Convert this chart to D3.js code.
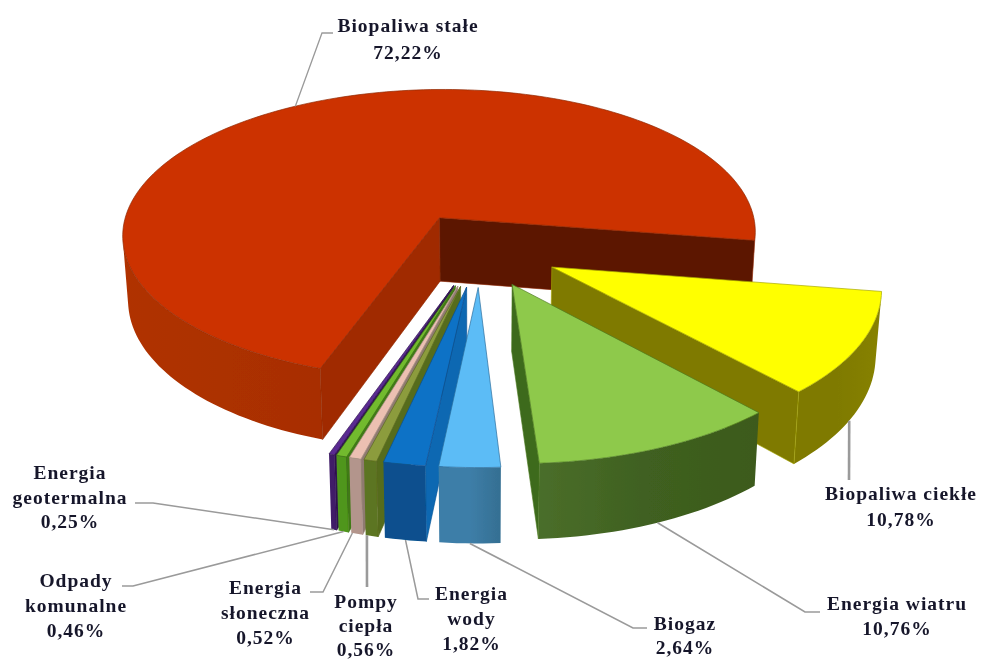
<!DOCTYPE html>
<html>
<head>
<meta charset="utf-8">
<script src="https://cdn.jsdelivr.net/npm/d3@7"></script>
<style>
  html, body { margin: 0; padding: 0; background: #fff; }
  text { font-family: "Liberation Serif", serif; font-weight: bold; font-size: 19.5px; fill: #16162a; letter-spacing: 1px; }
</style>
</head>
<body>
<script>
// Data
var names = [
  ["Biopaliwa stałe"], ["Biopaliwa ciekłe"], ["Energia wiatru"], ["Biogaz"],
  ["Energia", "wody"], ["Pompy", "ciepła"], ["Energia", "słoneczna"],
  ["Odpady", "komunalne"], ["Energia", "geotermalna"]
];
var values = [72.22, 10.78, 10.76, 2.64, 1.82, 0.56, 0.52, 0.46, 0.25];
var valueLabels = ["72,22%", "10,78%", "10,76%", "2,64%", "1,82%", "0,56%", "0,52%", "0,46%", "0,25%"];

// Colours per slice
var topColors = ["#cc3300", "#ffff00", "#8ec94b", "#5cbcf6", "#0b72c6", "#8c9c3e", "#ecc0b2", "#72ba2e", "#5a2a92"];
// wall shading, left to right on the screen
var wallColors = [
  ["#b03200", "#a32c00", "#a52e00"],
  ["#7f7a00", "#7f7a00", "#878200"],
  ["#4a6e2a", "#3f6020", "#3c5a1c"],
  ["#3d7ea8", "#3d7ea8", "#356f92"],
  ["#07508e", "#07508e", "#07508e"],
  ["#5c7420", "#5c7420", "#5c7420"],
  ["#b3958c", "#b3958c", "#b3958c"],
  ["#4f961a", "#4f961a", "#4f961a"],
  ["#3f1b68", "#3f1b68", "#3f1b68"]
];
var cutColors = ["#5c1600", "#7f7a00", "#3c6a1c", "#2f6f9e", "#0868b2", "#566c1e", "#8f7a70", "#3f7a14", "#2f1250"];
var edgeColors = ["#8f2600", "#a8a800", "#4e7a20", "#2c6f9e", "#084f92", "#5a6c1e", "#a98f88", "#3f7a14", "#2f1250"];

// Draw order: painter's, back to front
var drawOrder = [0, 1, 2, 8, 7, 6, 5, 4, 3];

// Label layout: centre x, first baseline y, line step, leader path after the slice
var labelLayout = [
  { x: 408, y: 32, step: 27, leader: [[322, 33], [333, 33]], at: 0, frac: 0.5, w: 1.3 },
  { x: 901, y: 500, step: 26, leader: [[849, 480]], at: 1, frac: 0.56, w: 2.6 },
  { x: 897, y: 610, step: 25, leader: [[805, 612], [820, 612]], at: 1, frac: 0.5, w: 1.6 },
  { x: 685, y: 630, step: 24, leader: [[633, 628], [647, 628]], at: 1, frac: 0.5, w: 1.6 },
  { x: 471.5, y: 600, step: 25, leader: [[418, 599], [429, 599]], at: 1, frac: 0.5, w: 1.5 },
  { x: 366, y: 608, step: 24, leader: [[367, 587]], at: 1, frac: 0.9, w: 2.6 },
  { x: 265.5, y: 594, step: 25, leader: [[323, 592], [310, 592]], at: 1, frac: 0.9, w: 1.5 },
  { x: 76, y: 587, step: 25, leader: [[133, 586], [122, 586]], at: 1, frac: 0.5, w: 1.5 },
  { x: 70, y: 479, step: 24.5, leader: [[153, 503], [135, 503]], at: 1, frac: 0.5, w: 1.5 }
];

var width = 981, height = 659;
var cx = 480, cy = 249, radius = 322;
var tilt = 0.465, persp = 0.115, explode = 0.25, depth = 65, squeeze = 0.015;
var rad = Math.PI / 180;

var x = d3.scaleLinear().domain([-1, 1]).range([cx - radius, cx + radius]);
var y = d3.scaleLinear().domain([-1, 1]).range([cy - radius * tilt, cy + radius * tilt]);

var svg = d3.select("body").append("svg")
  .attr("width", width)
  .attr("height", height)
  .style("display", "block");

var defs = svg.append("defs");
defs.append("filter").attr("id", "soft").append("feGaussianBlur").attr("stdDeviation", 0.55);

var chart = svg.append("g").attr("filter", "url(#soft)");

// Slices start at the lower left of the big slice and go clockwise
var pie = d3.pie().value(function (d) { return d; }).sort(null)
  .startAngle(-161 * rad).endAngle(199 * rad);
var arcs = pie(values);

// World position of a point in slice d at angle a and radial distance r
function world(d, a, r) {
  var mid = (d.startAngle + d.endAngle) / 2;
  return [explode * Math.sin(mid) + r * Math.sin(a), -explode * Math.cos(mid) - r * Math.cos(a)];
}

// World to screen with perspective, level 0 top and 1 bottom
function project(w, level) {
  var f = 1 / (1 - persp * w[1]);
  var k = 1 - squeeze * level;
  return [x(w[0] * f * k), y(w[1] * f) + level * depth * f];
}

function arcAngles(d) {
  var n = Math.max(4, Math.ceil((d.endAngle - d.startAngle) / (1.5 * rad)));
  return d3.range(n + 1).map(function (i) {
    return d.startAngle + (d.endAngle - d.startAngle) * i / n;
  });
}

var line = d3.line();

function cutFace(d, a) {
  return [
    project(world(d, a, 0), 0), project(world(d, a, 1), 0),
    project(world(d, a, 1), 1), project(world(d, a, 0), 1)
  ];
}

drawOrder.forEach(function (i) {
  var d = arcs[i];
  var g = chart.append("g").attr("class", "slice");
  var angles = arcAngles(d);

  // outer wall: only the strips that face the viewer, one path with a gradient
  var strips = d3.pairs(angles).map(function (p) {
    return [
      project(world(d, p[0], 1), 0), project(world(d, p[1], 1), 0),
      project(world(d, p[1], 1), 1), project(world(d, p[0], 1), 1)
    ];
  }).filter(function (q) { return d3.polygonArea(q) > 0; });

  if (strips.length) {
    var xs = d3.extent(d3.merge(strips), function (p) { return p[0]; });
    var grad = defs.append("linearGradient")
      .attr("id", "wall" + i)
      .attr("gradientUnits", "userSpaceOnUse")
      .attr("x1", xs[0]).attr("x2", xs[1])
      .attr("y1", 0).attr("y2", 0);
    wallColors[i].forEach(function (c, j) {
      grad.append("stop").attr("offset", j / 2).attr("stop-color", c);
    });
    g.append("path")
      .attr("d", strips.map(function (q) { return line(q) + "Z"; }).join(""))
      .attr("fill", "url(#wall" + i + ")");
  }

  // cut faces that can be seen
  var startFace = cutFace(d, d.startAngle), endFace = cutFace(d, d.endAngle);
  if (d3.polygonArea(startFace) > 0) {
    g.append("path")
      .attr("d", line(startFace) + "Z")
      .attr("fill", i === 0 ? "#a02c00" : cutColors[i])
      .attr("stroke", edgeColors[i])
      .attr("stroke-width", 0.6);
  }
  if (d3.polygonArea(endFace) < 0) {
    g.append("path")
      .attr("d", line(endFace) + "Z")
      .attr("fill", cutColors[i])
      .attr("stroke", edgeColors[i])
      .attr("stroke-width", 0.6);
  }

  // top
  var outline = [project(world(d, d.startAngle, 0), 0)].concat(angles.map(function (a) {
    return project(world(d, a, 1), 0);
  }));
  g.append("path")
    .attr("d", line(outline) + "Z")
    .attr("fill", topColors[i])
    .attr("stroke", edgeColors[i])
    .attr("stroke-width", 0.7);
});

// Leader lines and labels
labelLayout.forEach(function (l, i) {
  var d = arcs[i];
  var a = d.startAngle + (d.endAngle - d.startAngle) * l.frac;
  var start = project(world(d, a, 1), l.at);
  chart.append("path")
    .attr("d", line([start].concat(l.leader)))
    .attr("fill", "none")
    .attr("stroke", "#9a9a9a")
    .attr("stroke-width", l.w);

  var t = chart.append("text").attr("text-anchor", "middle");
  names[i].concat(valueLabels[i]).forEach(function (s, j) {
    t.append("tspan")
      .attr("x", l.x)
      .attr("y", l.y + j * l.step)
      .text(s);
  });
});
</script>
</body>
</html>
